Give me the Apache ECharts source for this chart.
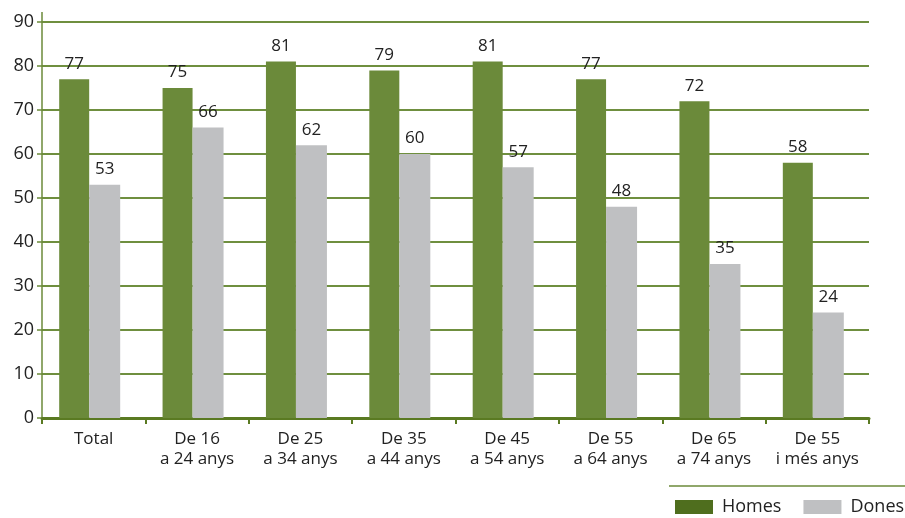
<!DOCTYPE html>
<html><head><meta charset="utf-8">
<script src="https://cdn.jsdelivr.net/npm/echarts@6/dist/echarts.min.js"></script>
<style>html,body{margin:0;padding:0;background:#fff}#c{width:905px;height:518px}</style>
</head><body><div id="c"></div>
<script>
const categories = ["Total","De 16\na 24 anys","De 25\na 34 anys","De 35\na 44 anys","De 45\na 54 anys","De 55\na 64 anys","De 65\na 74 anys","De 55\ni més anys"];
const homes = [77,75,81,79,81,77,72,58];
const dones = [53,66,62,60,57,48,35,24];
const yTicks = [0,10,20,30,40,50,60,70,80,90];
const spacer = categories.map(() => 0);

const FONT = "Open Sans";
const chart = echarts.init(document.getElementById('c'));
chart.setOption({
  animation:false,
  textStyle:{fontFamily:FONT},
  grid:{left:42,right:36,top:22,bottom:100},
  legend:{
    left:670,top:493,width:300,padding:[5,0,5,5],itemWidth:38,itemHeight:14,itemGap:22,icon:'rect',
    textStyle:{fontSize:18,color:'#222',fontFamily:FONT,padding:[0,0,0,4]},
    data:[{name:'Homes',itemStyle:{color:'#4f6e1e'}},{name:'Dones',itemStyle:{color:'#bfc0c2'}}]
  },
  graphic:[
    {type:'line',shape:{x1:669,y1:486,x2:905,y2:486},style:{stroke:'#6b8a3a',lineWidth:1.5}},
    {type:'line',shape:{x1:42,y1:12,x2:42,y2:22},style:{stroke:'#6b8a3a',lineWidth:1.5}}
  ],
  xAxis:{
    type:'category',data:categories,
    axisLine:{lineStyle:{color:'#5a7a22',width:3}},
    axisTick:{show:true,length:6,lineStyle:{color:'#5a7a22',width:2}},
    axisLabel:{interval:0,fontSize:17,color:'#222',lineHeight:20,margin:11,fontFamily:FONT}
  },
  yAxis:{
    type:'value',min:yTicks[0],max:yTicks[yTicks.length-1],interval:10,
    axisLine:{show:true,lineStyle:{color:'#6b8a3a',width:1.5}},
    axisTick:{show:true,length:5,lineStyle:{color:'#6b8a3a',width:1.5}},
    splitLine:{lineStyle:{color:'#6f8f3f',width:2}},
    axisLabel:{fontSize:18,color:'#222',margin:8,fontFamily:FONT}
  },
  series:[
    {name:'Homes',type:'bar',data:homes,barWidth:30,barGap:'0%',
     itemStyle:{color:'#6b8a3a'},
     label:{show:true,position:'top',distance:7,fontSize:17,color:'#222',fontFamily:FONT}},
    {name:'Dones',type:'bar',data:dones,barWidth:31,
     itemStyle:{color:'#bfc0c2'},
     label:{show:true,position:'top',distance:7,fontSize:17,color:'#222',fontFamily:FONT}},
    {name:'spacer',type:'bar',data:spacer,barWidth:8,silent:true,
     itemStyle:{color:'rgba(0,0,0,0)'},label:{show:false}}
  ]
});
</script></body></html>
